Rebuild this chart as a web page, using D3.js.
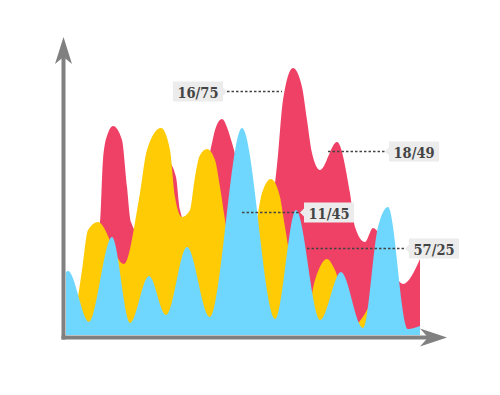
<!DOCTYPE html>
<html>
<head>
<meta charset="utf-8">
<script src="https://cdn.jsdelivr.net/npm/d3@7"></script>
<style>
  html, body { margin: 0; padding: 0; background: #ffffff; }
  svg { display: block; }
</style>
</head>
<body>
<svg id="chart" width="500" height="395"></svg>
<script>
// ---- data (x: position along the axis, y: value) ----
const redX    = [0, 19, 34, 37, 42, 47, 56, 61, 65, 82, 103, 110, 114, 126, 146, 149, 156, 162, 166, 196, 211, 217, 227, 236, 241, 246, 254, 271, 284, 289, 299, 307, 337, 354];
const redY    = [23, 30, 113, 175, 202, 209, 195, 148, 113, 90, 172, 158, 125, 99, 192, 205, 216, 205, 192, 85, 170, 235, 267, 248, 215, 182, 165, 193, 142, 108, 93, 107, 51, 76];

const yellowX = [0, 12, 17, 22, 32, 58, 74, 81, 95, 104, 109, 116, 124, 129, 134, 141, 149, 154, 159, 176, 191, 196, 205, 214, 219, 239, 249, 261, 269, 286, 306, 320, 344, 354];
const yellowY = [3, 38, 72, 105, 113, 71, 142, 185, 207, 185, 138, 118, 125, 158, 180, 186, 175, 148, 115, 7, 115, 142, 156, 138, 108, 10, 55, 76, 65, 9, 35, 73, 2, 2];

const blueX   = [0, 2, 23, 46, 64, 83, 100, 121, 144, 176, 209, 230, 254, 275, 297, 312, 322, 342, 354];
const blueY   = [63, 64, 13, 98, 12, 59, 20, 88, 18, 207, 16, 125, 15, 63, 7, 108, 128, 6, 9];

const seriesNames  = ["red", "yellow", "blue"];
const seriesColors = ["#ef4066", "#fecb05", "#6fd6fd"];

// annotations: label text, dotted line from x1 to x2 at value y, label side
const noteText = ["16/75", "18/49", "11/45", "57/25"];
const noteX1   = [161, 262, 176, 241];
const noteX2   = [216, 319, 234, 339];
const noteY    = [244, 184, 123, 87];
const noteSide = ["left", "right", "right", "right"];

// ---- drawing ----
const svg = d3.select("#chart");
const x = d3.scaleLinear().domain([0, 354]).range([66, 420]);
const y = d3.scaleLinear().domain([0, 300]).range([335, 35]);

const zip = (xs, ys) => xs.map((v, i) => [v, ys[i]]);
const series = [zip(redX, redY), zip(yellowX, yellowY), zip(blueX, blueY)];

const area = d3.area()
  .x(d => x(d[0]))
  .y0(y(0))
  .y1(d => y(d[1]))
  .curve(d3.curveMonotoneX);

svg.append("g").selectAll("path")
  .data(series)
  .join("path")
  .attr("class", (d, i) => "area " + seriesNames[i])
  .attr("d", area)
  .attr("fill", (d, i) => seriesColors[i]);

// axes
const axisColor = "#808080";
const ax = svg.append("g");
const x0 = x(0) - 2.5, yb = y(0) + 2.5;
ax.append("line").attr("x1", x0).attr("y1", yb + 2).attr("x2", x0).attr("y2", y(300) + 22)
  .attr("stroke", axisColor).attr("stroke-width", 4);
ax.append("line").attr("x1", x0 - 2).attr("y1", yb).attr("x2", x(354) + 12).attr("y2", yb)
  .attr("stroke", axisColor).attr("stroke-width", 4);
// arrow heads
const tipY = y(300) + 2;
ax.append("path")
  .attr("d", `M${x0},${tipY} L${x0 + 8.5},${tipY + 27} L${x0},${tipY + 20} L${x0 - 8.5},${tipY + 27} Z`)
  .attr("fill", axisColor);
const tipX = x(354) + 27;
ax.append("path")
  .attr("d", `M${tipX},${yb} L${tipX - 27},${yb - 9} L${tipX - 19},${yb} L${tipX - 27},${yb + 9} Z`)
  .attr("fill", axisColor);

// annotations
const notes = svg.append("g");
noteText.forEach((t, i) => {
  const yy = Math.round(y(noteY[i])) + 0.5;
  const xa = x(noteX1[i]), xb = x(noteX2[i]);
  notes.append("line")
    .attr("x1", xa).attr("x2", xb).attr("y1", yy).attr("y2", yy)
    .attr("stroke", "#444").attr("stroke-width", 1.5)
    .attr("stroke-dasharray", "2.5,2");
  const g = notes.append("g");
  const txt = g.append("text")
    .attr("font-family", "'DejaVu Serif Condensed', 'DejaVu Serif', serif")
    .attr("font-stretch", "condensed")
    .attr("font-weight", "bold")
    .attr("font-size", 14.5)
    .attr("fill", "#444")
    .attr("dominant-baseline", "central")
    .text(t);
  const w = txt.node().getComputedTextLength();
  const padX = 4.5, h = 20, pt = 4;
  let bx;
  if (noteSide[i] === "left") {
    bx = xa - pt - (w + 2 * padX);
    g.insert("path", "text")
      .attr("d", `M${bx},${yy - h / 2} H${bx + w + 2 * padX} V${yy - pt} L${xa},${yy} L${bx + w + 2 * padX},${yy + pt} V${yy + h / 2} H${bx} Z`)
      .attr("fill", "#ececec");
  } else {
    bx = xb + pt;
    g.insert("path", "text")
      .attr("d", `M${bx},${yy - h / 2} H${bx + w + 2 * padX} V${yy + h / 2} H${bx} V${yy + pt} L${xb},${yy} L${bx},${yy - pt} Z`)
      .attr("fill", "#ececec");
  }
  txt.attr("x", bx + padX).attr("y", yy + 0.5);
});
</script>
</body>
</html>
